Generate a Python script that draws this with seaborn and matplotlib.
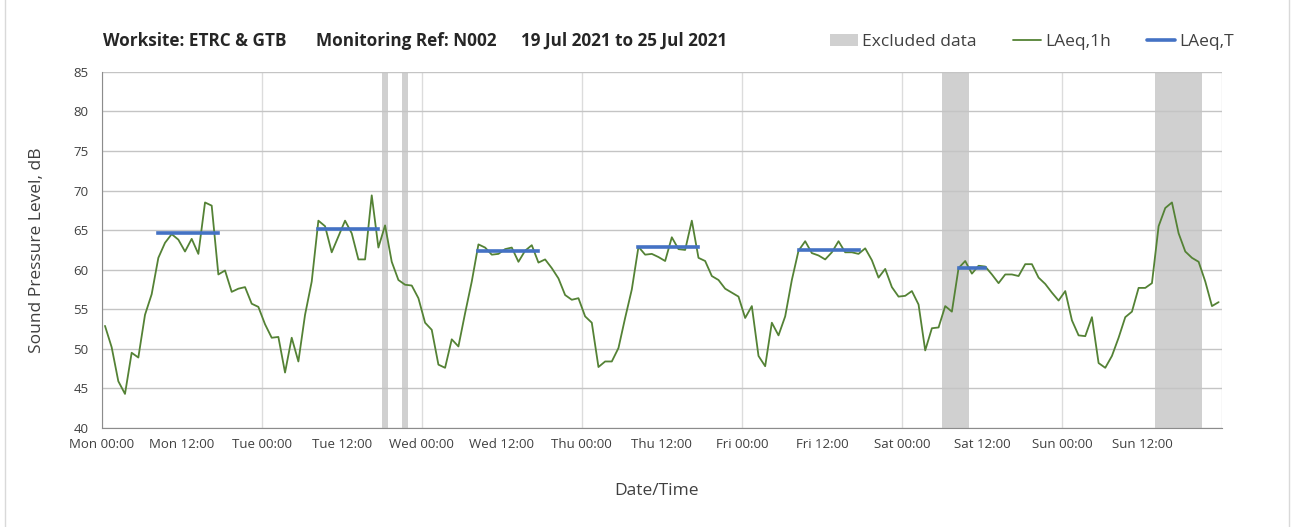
import pandas as pd
import matplotlib
matplotlib.use("Agg")
import matplotlib.pyplot as plt
from matplotlib.lines import Line2D
from matplotlib.patches import Patch, Rectangle
import seaborn as sns

# Hourly LAeq,1h readings (dB), one list per day, hour 00 -> 23
mon = [52.9, 50.2, 45.9, 44.3, 49.5, 48.9, 54.3, 56.9, 61.5, 63.4, 64.5, 63.8,
       62.3, 63.9, 62.0, 68.5, 68.1, 59.4, 59.9, 57.2, 57.6, 57.8, 55.7, 55.3]
tue = [53.1, 51.4, 51.5, 47.0, 51.4, 48.4, 54.3, 58.5, 66.2, 65.5, 62.2, 64.2,
       66.2, 64.6, 61.3, 61.3, 69.4, 62.8, 65.6, 61.0, 58.7, 58.1, 58.0, 56.4]
wed = [53.3, 52.4, 48.0, 47.6, 51.2, 50.3, 54.5, 58.5, 63.2, 62.8, 61.9, 62.0,
       62.6, 62.8, 61.0, 62.4, 63.1, 60.9, 61.3, 60.2, 58.9, 56.8, 56.2, 56.4]
thu = [54.1, 53.3, 47.7, 48.4, 48.4, 50.1, 53.9, 57.5, 62.9, 61.9, 62.0, 61.6,
       61.1, 64.1, 62.6, 62.5, 66.2, 61.5, 61.1, 59.2, 58.7, 57.6, 57.1, 56.6]
fri = [53.9, 55.4, 49.1, 47.8, 53.3, 51.7, 54.1, 58.7, 62.4, 63.6, 62.1, 61.8,
       61.3, 62.2, 63.6, 62.2, 62.2, 62.0, 62.7, 61.2, 59.0, 60.1, 57.8, 56.6]
sat = [56.7, 57.3, 55.6, 49.8, 52.6, 52.7, 55.4, 54.7, 60.2, 61.1, 59.5, 60.5,
       60.4, 59.4, 58.3, 59.4, 59.4, 59.2, 60.7, 60.7, 59.0, 58.2, 57.1, 56.1]
sun = [57.3, 53.6, 51.7, 51.6, 54.0, 48.2, 47.6, 49.1, 51.4, 54.0, 54.7, 57.7,
       57.7, 58.3, 65.5, 67.8, 68.5, 64.6, 62.3, 61.5, 61.0, 58.5, 55.4, 55.9]

# LAeq,T over the monitoring periods
period_start = ["2021-07-19 08:00", "2021-07-20 08:00", "2021-07-21 08:00",
                "2021-07-22 08:00", "2021-07-23 08:00", "2021-07-24 08:00"]
period_end = ["2021-07-19 18:00", "2021-07-20 18:00", "2021-07-21 18:00",
              "2021-07-22 18:00", "2021-07-23 18:00", "2021-07-24 13:00"]
laeq_t = [64.6, 65.1, 62.4, 62.9, 62.5, 60.2]

# excluded data windows
excl_start = ["2021-07-20 18:00", "2021-07-20 21:00", "2021-07-24 06:00", "2021-07-25 14:00"]
excl_end = ["2021-07-20 19:00", "2021-07-20 22:00", "2021-07-24 10:00", "2021-07-25 21:00"]

title_parts = ["Worksite: ETRC & GTB", "Monitoring Ref: N002", "19 Jul 2021 to 25 Jul 2021"]

green = "#548235"
blue = "#4472C4"
grey = "#D0D0D0"
half_hour = pd.Timedelta(minutes=30)

levels = mon + tue + wed + thu + fri + sat + sun
hourly = pd.DataFrame({
    "time": pd.date_range("2021-07-19 00:00", periods=len(levels), freq="h") + half_hour,
    "level": levels,
})

rows = []
for i, (s, e, v) in enumerate(zip(period_start, period_end, laeq_t)):
    rows.append({"period": i, "time": pd.Timestamp(s) + half_hour, "level": v})
    rows.append({"period": i, "time": pd.Timestamp(e) - half_hour, "level": v})
periods = pd.DataFrame(rows)

sns.set_style("white")
plt.rcParams["font.family"] = ["Open Sans", "DejaVu Sans"]

fig = plt.figure(figsize=(12.95, 5.27), dpi=100)
ax = fig.add_axes([0.0785, 0.188, 0.8651, 0.6755])

for s, e in zip(excl_start, excl_end):
    ax.axvspan(pd.Timestamp(s), pd.Timestamp(e), color=grey, lw=0, zorder=0.2)

sns.lineplot(data=hourly, x="time", y="level", color=green, lw=1.3, ax=ax, zorder=3)
sns.lineplot(data=periods, x="time", y="level", units="period", estimator=None,
             color=blue, lw=2.6, solid_capstyle="projecting", ax=ax, zorder=4)

start, end = pd.Timestamp("2021-07-19"), pd.Timestamp("2021-07-26")
ax.set_xlim(start, end)
ax.set_ylim(40, 85)
ax.set_yticks(range(40, 90, 5))

major = pd.date_range(start, end, freq="12h")
labels = [t.strftime("%a %H:%M") for t in major[:-1]] + [""]
ax.set_xticks(major, labels)
ax.set_xticks(pd.date_range(start, end, freq="D"), minor=True)
ax.xaxis.remove_overlapping_locs = False

ax.set_axisbelow(True)
ax.grid(axis="y", color="#c4c4c4", lw=1)
ax.grid(axis="x", which="minor", color="#dcdcdc", lw=1)
ax.grid(axis="x", which="major", visible=False)
for side in ["top", "right"]:
    ax.spines[side].set_visible(False)
for side in ["left", "bottom"]:
    ax.spines[side].set_color("#8c8c8c")
ax.tick_params(axis="both", which="major", direction="inout", length=7, width=1,
               color="#8c8c8c", labelsize=9.5, labelcolor="#404040")
ax.tick_params(axis="x", which="minor", length=0)
ax.tick_params(axis="y", pad=6)
ax.set_xlabel("")
ax.set_ylabel("")

fig.text(656 / 1295, 1 - 491 / 527, "Date/Time", fontsize=12.5, color="#404040",
         ha="center", va="center")
fig.text(37 / 1295, 1 - 250 / 527, "Sound Pressure Level, dB", fontsize=12.5,
         color="#404040", ha="center", va="center", rotation=90)

for x, part in zip([103, 316, 521], title_parts):
    fig.text(x / 1295, 1 - 41 / 527, part, fontsize=12.3, fontweight="bold",
             va="center", ha="left")

handles = [Patch(facecolor=grey, edgecolor="none"),
           Line2D([], [], color=green, lw=1.3),
           Line2D([], [], color=blue, lw=2.6)]
fig.legend(handles, ["Excluded data", "LAeq,1h", "LAeq,T"], loc="center right",
           bbox_to_anchor=(1234 / 1295, 1 - 42 / 527), ncol=3, frameon=False,
           fontsize=12.5, handlelength=1.6, handletextpad=0.25, columnspacing=2.1,
           borderpad=0, borderaxespad=0, labelcolor="#404040")

fig.patches.append(Rectangle((5 / 1295, -0.01), 1284 / 1295, 1.02, transform=fig.transFigure,
                             fill=False, edgecolor="#d9d9d9", lw=1))

plt.savefig("out.png", dpi=100)
